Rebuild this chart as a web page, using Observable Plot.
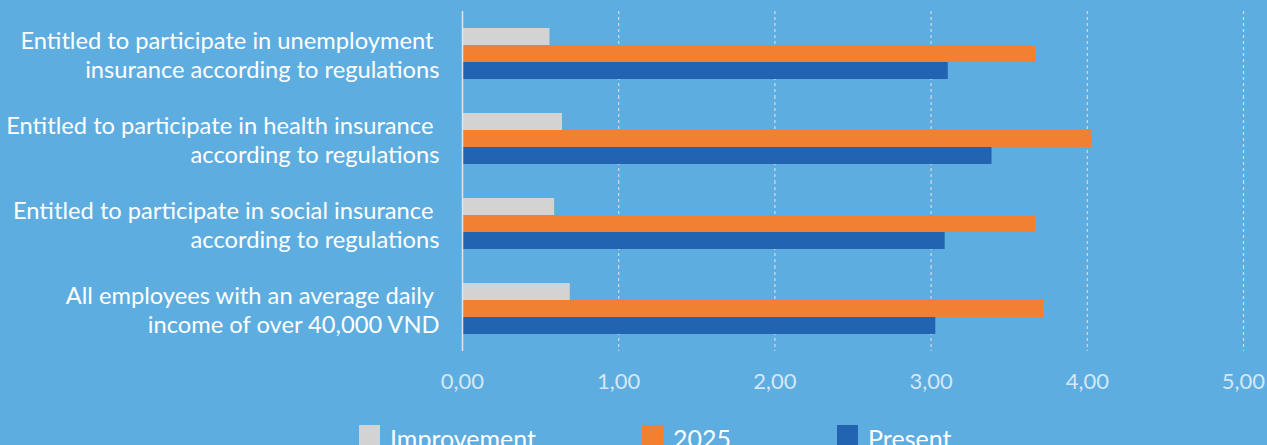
<!DOCTYPE html>
<html><head><meta charset="utf-8">
<script src="https://cdn.jsdelivr.net/npm/d3@7"></script>
<script src="https://cdn.jsdelivr.net/npm/@observablehq/plot@0.6"></script>
<style>
html,body{margin:0;padding:0;background:#5dade0;width:1267px;height:445px;overflow:hidden;font-family:Lato,sans-serif;}
#chart svg text{white-space:pre;}
#legend{display:flex;align-items:flex-start;padding-left:359px;gap:106px;margin-top:5px;}
.item{display:flex;align-items:flex-start;gap:10px;color:#ffffff;font-size:25px;line-height:27px;}
.sw{width:21px;height:21px;margin-top:0px;}
</style></head><body><div id="chart"></div><div id="legend"></div>
<script>
const categories = [
  "Entitled to participate in unemployment \ninsurance according to regulations",
  "Entitled to participate in health insurance \naccording to regulations",
  "Entitled to participate in social insurance \naccording to regulations",
  "All employees with an average daily \nincome of over 40,000 VND"
];
const series = ["Improvement", "2025", "Present"];
const improvement = [0.56, 0.64, 0.59, 0.69];
const year2025 = [3.67, 4.03, 3.67, 3.72];
const present = [3.11, 3.39, 3.09, 3.03];
const colors = ["#d3d3d3", "#f28033", "#2264b1"];
const xTicks = [0, 1, 2, 3, 4, 5];

const valuesBySeries = {"Improvement": improvement, "2025": year2025, "Present": present};
const data = categories.flatMap((c, i) => series.map(s => ({category: c, series: s, value: valuesBySeries[s][i]})));
const fmt = d => d.toFixed(2).replace(".", ",");

const H = 420;
const chart = Plot.plot({
  width: 1267, height: H,
  marginLeft: 462, marginRight: 24, marginTop: 10, marginBottom: H - 351,
  style: {background: "transparent", fontFamily: "Lato, sans-serif", overflow: "visible"},
  x: {domain: [0, 5]},
  y: {domain: series, axis: null, paddingInner: 0, paddingOuter: 0.92},
  fy: {domain: categories, padding: 0, axis: null},
  color: {domain: series, range: colors},
  marks: [
    Plot.gridX(xTicks.filter(d => d > 0), {stroke: "#d9d9d9", strokeOpacity: 1, strokeDasharray: "3,3", strokeWidth: 1.2}),
    Plot.barX(data, {x: "value", y: "series", fy: "category", fill: "series"}),
    Plot.ruleX([0], {stroke: "#dde6ee", strokeWidth: 1.5}),
    Plot.axisX(xTicks, {tickSize: 0, tickPadding: 22, tickFormat: fmt, fontSize: 22, fill: "#d5e7f6", label: null}),
    Plot.axisFy({anchor: "left", tickSize: 0, tickPadding: 23, fontSize: 23.7, fill: "#ffffff", lineHeight: 1.26, label: null})
  ]
});
document.getElementById("chart").appendChild(chart);

const legend = document.getElementById("legend");
series.forEach((s, i) => {
  const item = document.createElement("div");
  item.className = "item";
  const sw = document.createElement("div");
  sw.className = "sw";
  sw.style.background = colors[i];
  const t = document.createElement("span");
  t.textContent = s;
  item.appendChild(sw); item.appendChild(t);
  legend.appendChild(item);
});
</script>
</body></html>
